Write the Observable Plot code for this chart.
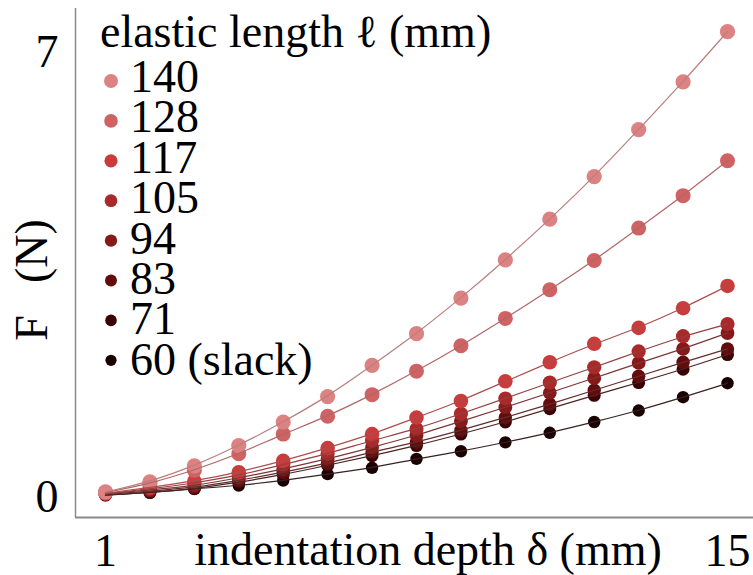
<!DOCTYPE html>
<html><head><meta charset="utf-8">
<script src="https://cdn.jsdelivr.net/npm/d3@7"></script>
<script src="https://cdn.jsdelivr.net/npm/@observablehq/plot@0.6"></script>
<style>
html,body{margin:0;padding:0;background:#fff;}
#chart svg{display:block;}
</style>
</head><body><div id="chart"></div>
<script>
// ---- data ----
const delta = [1, 2, 3, 4, 5, 6, 7, 8, 9, 10, 11, 12, 13, 14, 15];
const lengths = ["140", "128", "117", "105", "94", "83", "71", "60 (slack)"];
const F140 = [0.08, 0.24, 0.49, 0.81, 1.18, 1.58, 2.07, 2.57, 3.13, 3.73, 4.37, 5.04, 5.78, 6.53, 7.32];
const F128 = [0.07, 0.21, 0.42, 0.68, 0.99, 1.27, 1.61, 1.98, 2.38, 2.81, 3.26, 3.72, 4.23, 4.74, 5.29];
const F117 = [0.06, 0.15, 0.25, 0.39, 0.57, 0.77, 0.99, 1.25, 1.51, 1.82, 2.12, 2.41, 2.66, 2.97, 3.32];
const F105 = [0.05, 0.13, 0.22, 0.34, 0.51, 0.68, 0.89, 1.07, 1.31, 1.55, 1.80, 2.04, 2.29, 2.53, 2.72];
const F94  = [0.05, 0.11, 0.18, 0.30, 0.44, 0.60, 0.78, 0.97, 1.19, 1.41, 1.64, 1.87, 2.11, 2.33, 2.58];
const F83  = [0.04, 0.09, 0.15, 0.26, 0.39, 0.53, 0.71, 0.86, 1.05, 1.25, 1.46, 1.68, 1.90, 2.12, 2.33];
const F71  = [0.03, 0.07, 0.13, 0.23, 0.35, 0.50, 0.65, 0.81, 0.99, 1.18, 1.39, 1.60, 1.80, 2.01, 2.24];
const F60  = [0.03, 0.07, 0.13, 0.18, 0.26, 0.36, 0.46, 0.60, 0.72, 0.86, 1.01, 1.18, 1.36, 1.57, 1.79];
const xTicks = [1, 15];
const yTicks = [0, 7];
const legendTitle = "elastic length \u2113 (mm)";
const xLabel = "indentation depth \u03b4 (mm)";
const yLabel = "F\u2002\u2009(N)";

// ---- styles ----
const colors = ["#dd8282", "#cf6262", "#c83c3c", "#a82a2a", "#861a1a", "#620d0d", "#3b0404", "#1c0101"];
const dotR = [7.6, 7.5, 7.3, 7.1, 6.9, 6.7, 6.5, 6.2];
const legendR = [7.0, 6.8, 6.6, 6.4, 6.2, 6.0, 5.8, 5.6];
const lineColors = colors.map(c => d3.interpolateRgb(c, "#707070")(0.3));
const font = "'Liberation Serif', 'Times New Roman', Times, serif";
const fs = 46;

const seriesValues = [F140, F128, F117, F105, F94, F83, F71, F60];
const rows = [];
lengths.forEach((L, i) => seriesValues[i].forEach((v, j) => rows.push({length: L, idx: i, delta: delta[j], F: v})));

const xDomain = [0.325, 15.585];
const yDomain = [-0.322, 7.684];

const order = d3.range(lengths.length).reverse(); // slack drawn first
const marks = [];
order.forEach(i => marks.push(Plot.dot(rows.filter(d => d.idx === i), {x: "delta", y: "F", r: dotR[i], fill: colors[i], stroke: "none"})));
order.forEach(i => marks.push(Plot.line(rows.filter(d => d.idx === i), {x: "delta", y: "F", stroke: lineColors[i], strokeWidth: 1.2, curve: "basis"})));
marks.push(Plot.ruleX([xDomain[0]], {stroke: "#8a8a8a", strokeWidth: 1.5}));
marks.push(Plot.ruleY([yDomain[0]], {stroke: "#8a8a8a", strokeWidth: 2}));

const W = 753, H = 575, mL = 75, mR = 0, mT = 8, mB = 58;
const chart = Plot.plot({
  width: W, height: H,
  marginLeft: mL, marginRight: mR, marginTop: mT, marginBottom: mB,
  style: {fontFamily: font, fontSize: fs + "px", color: "#000", background: "#fff", overflow: "visible"},
  x: {domain: xDomain, ticks: xTicks, tickSize: 0, tickPadding: 16, label: null, tickFormat: d => String(d)},
  y: {domain: yDomain, ticks: yTicks, tickSize: 0, tickPadding: 17, label: null, tickFormat: d => String(d)},
  marks
});
document.getElementById("chart").appendChild(chart);

// ---- annotations: legend and axis labels ----
const svg = d3.select(chart);
const g = svg.append("g").attr("font-family", font).attr("font-size", fs).attr("fill", "#000").attr("text-anchor", "start");
g.append("text").attr("x", 100).attr("y", 47).attr("text-anchor", "start").text(legendTitle);
lengths.forEach((L, i) => {
  g.append("circle").attr("cx", 111).attr("cy", 81 + 39.9 * i).attr("r", legendR[i]).attr("fill", colors[i]);
  g.append("text").attr("x", 130).attr("y", 92 + 40.4 * i).attr("text-anchor", "start").text(L);
});
g.append("text").attr("x", 428).attr("y", 565).attr("text-anchor", "middle").text(xLabel);
g.append("text").attr("transform", "translate(47,280) rotate(-90)").attr("text-anchor", "middle").text(yLabel);
</script>
</body></html>
